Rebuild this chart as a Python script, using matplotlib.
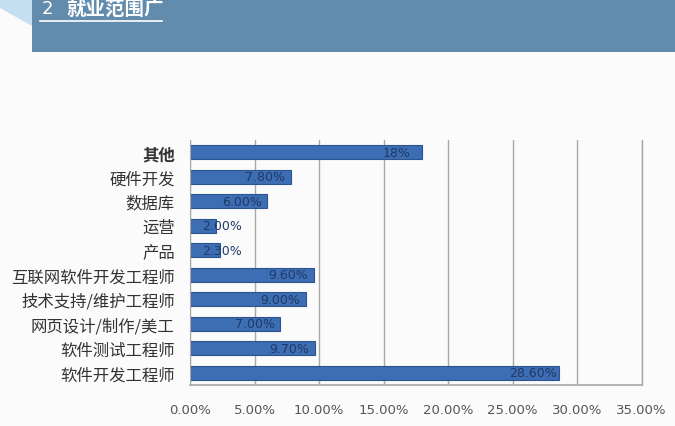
import matplotlib
matplotlib.use("Agg")
import matplotlib.pyplot as plt
from matplotlib.patches import Rectangle, Polygon

plt.rcParams['font.family'] = ['Noto Sans CJK SC', 'DejaVu Sans']

categories = ["其他", "硬件开发", "数据库", "运营", "产品", "互联网软件开发工程师",
              "技术支持/维护工程师", "网页设计/制作/美工", "软件测试工程师", "软件开发工程师"]
values = [18.0, 7.8, 6.0, 2.0, 2.3, 9.6, 9.0, 7.0, 9.7, 28.6]
value_labels = ["18%", "7.80%", "6.00%", "2.00%", "2.30%", "9.60%", "9.00%", "7.00%", "9.70%", "28.60%"]
xticks = [0, 5, 10, 15, 20, 25, 30, 35]
xtick_labels = ["0.00%", "5.00%", "10.00%", "15.00%", "20.00%", "25.00%", "30.00%", "35.00%"]
title_num = "2"
title_text = "就业范围广"

fig = plt.figure(figsize=(6.75, 4.27), dpi=100)
fig.patch.set_facecolor("#FBFBFB")

# header band
fig.patches.append(Polygon([(0, 1), (32/675, 1), (32/675, 1-27/427), (0, 1-9/427)],
                           closed=True, transform=fig.transFigure, facecolor="#C4DFF2",
                           edgecolor="none", zorder=0))
fig.patches.append(Rectangle((32/675, 1-53/427), 1-32/675, 53/427, transform=fig.transFigure,
                             facecolor="#628CAE", edgecolor="none", zorder=1))
fig.text(42/675, 1-9/427, title_num, color="white", fontsize=13, ha="left", va="center",
         family=['DejaVu Sans'], zorder=3)
fig.text(66/675, 1-9/427, title_text, color="white", fontsize=14, fontweight="bold",
         ha="left", va="center", zorder=3)
fig.lines.append(plt.Line2D([40/675, 162/675], [1-22/427, 1-22/427], transform=fig.transFigure,
                            color="white", lw=1.2, zorder=3))

ax = fig.add_axes([190/675, 41/427, 451.5/675, 245/427])
ax.set_facecolor("#FBFBFB")
n = len(categories)
ypos = list(range(n))
ax.barh(ypos, values, height=0.58, color="#3D6DB3", edgecolor="#2B5591", linewidth=0.8, zorder=2)
for y, v, lab in zip(ypos, values, value_labels):
    ax.text(max(v - 2.0, 2.5), y, lab, ha="center", va="center", fontsize=9,
            color="#1F3A66", family=['DejaVu Sans'], zorder=3)

ax.set_xlim(0, 35)
ax.set_ylim(n - 0.5, -0.5)
ax.set_yticks(ypos)
ax.set_yticklabels(categories, fontsize=11.8, color="#333333")
ax.get_yticklabels()[0].set_fontweight("bold")
ax.set_xticks(xticks)
ax.set_xticklabels(xtick_labels, fontsize=9.5, color="#555555", family=['DejaVu Sans'])
ax.tick_params(axis="both", length=0)
ax.tick_params(axis="x", pad=13)
ax.tick_params(axis="y", pad=11)
ax.grid(axis="x", color="#A8A8A8", linewidth=1.0, zorder=1)
ax.axvline(xticks[-1], color="#A8A8A8", linewidth=1.0, zorder=1, clip_on=False)
ax.set_axisbelow(True)
for s in ["top", "right"]:
    ax.spines[s].set_visible(False)
ax.spines["left"].set_color("#A8A8A8")
ax.spines["bottom"].set_color("#A8A8A8")
ax.spines["bottom"].set_linewidth(1.2)

fig.savefig("out.png", dpi=100, facecolor=fig.get_facecolor())
